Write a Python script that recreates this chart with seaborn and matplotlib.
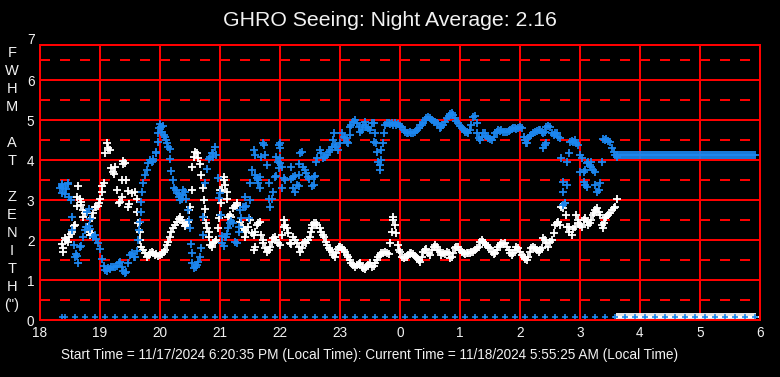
import matplotlib
matplotlib.use("Agg")
import matplotlib.pyplot as plt
import matplotlib.transforms as mtransforms
import seaborn as sns
import pandas as pd

sns.set_theme(style="dark")
plt.rcParams["font.family"] = ["Liberation Sans", "DejaVu Sans"]
plt.rcParams["lines.scale_dashes"] = False

# ---------------- text ----------------
title = "GHRO Seeing: Night Average: 2.16"
footer = ("Start Time = 11/17/2024 6:20:35 PM (Local Time): "
          "Current Time = 11/18/2024 5:55:25 AM (Local Time)")
ylabel_letters = ["F", "W", "H", "M", "", "A", "T", "", "Z", "E", "N", "I", "T", "H", '(")']

x_ticks = [18, 19, 20, 21, 22, 23, 24, 25, 26, 27, 28, 29, 30]
x_tick_labels = ["18", "19", "20", "21", "22", "23", "0", "1", "2", "3", "4", "5", "6"]
y_ticks = [0, 1, 2, 3, 4, 5, 6]
y_tick_labels = ["0", "1", "2", "3", "4", "5", "6"]
y_top_label = "7"

# ---------------- data: (hour of night, FWHM) ----------------
blue_points = [
    (18.34, 3.30), (18.36, 3.40), (18.37, 3.35), (18.39, 3.29), (18.43, 3.27), (18.46, 3.43),
    (18.47, 3.39), (18.37, 3.17), (18.42, 3.14), (18.49, 3.08), (18.51, 3.00), (18.53, 2.57),
    (18.54, 2.25), (18.57, 1.87), (18.59, 1.58), (18.60, 1.65), (18.62, 1.60), (18.64, 1.42),
    (18.67, 1.82), (18.69, 1.86), (18.71, 2.08), (18.75, 2.25), (18.77, 2.32), (18.78, 2.71),
    (18.81, 2.77), (18.82, 2.35), (18.83, 2.52), (18.84, 2.28), (18.89, 2.08), (18.91, 2.13),
    (18.94, 2.02), (18.97, 1.92), (19.00, 1.77), (19.04, 1.52), (19.06, 1.36), (19.08, 1.25),
    (19.11, 1.23), (19.14, 1.29), (19.17, 1.27), (19.19, 1.33), (19.22, 1.33), (19.25, 1.32),
    (19.28, 1.36), (19.31, 1.42), (19.33, 1.46), (19.36, 1.33), (19.39, 1.23), (19.42, 1.17),
    (19.44, 1.21), (19.47, 1.42), (19.50, 1.63), (19.53, 1.68), (19.56, 1.58), (19.58, 1.58),
    (19.61, 1.73), (19.63, 2.00), (19.65, 2.25), (19.66, 2.46), (19.68, 2.70), (19.69, 2.96),
    (19.70, 3.20), (19.72, 3.42), (19.75, 3.63), (19.78, 3.75), (19.80, 3.92), (19.83, 4.00),
    (19.86, 3.96), (19.88, 4.02), (19.89, 3.98), (19.93, 4.18), (19.94, 4.20), (19.96, 4.46),
    (19.97, 4.67), (19.99, 4.80), (20.00, 4.90), (20.02, 4.83), (20.04, 4.71), (20.05, 4.85),
    (20.07, 4.63), (20.08, 4.57), (20.10, 4.50), (20.12, 4.42), (20.14, 4.33), (20.16, 4.27),
    (20.17, 4.02), (20.19, 3.73), (20.21, 3.50), (20.23, 3.29), (20.27, 3.25), (20.29, 3.18),
    (20.31, 3.14), (20.32, 3.08), (20.34, 3.00), (20.36, 3.03), (20.38, 3.13), (20.39, 3.25),
    (20.41, 3.21), (20.44, 3.03), (20.47, 2.75), (20.49, 2.50), (20.50, 2.29), (20.51, 1.90),
    (20.53, 1.68), (20.54, 1.43), (20.57, 1.29), (20.60, 1.33), (20.62, 1.38), (20.64, 1.46),
    (20.67, 1.58), (20.69, 1.79), (20.71, 2.13), (20.72, 2.57), (20.75, 3.42), (20.78, 3.77),
    (20.81, 4.02), (20.83, 4.07), (20.86, 4.17), (20.88, 4.08), (20.89, 4.18), (20.92, 4.32),
    (20.94, 4.13), (20.97, 3.54), (20.99, 3.04), (21.00, 3.17), (21.01, 2.63), (21.03, 2.10),
    (21.04, 1.92), (21.06, 1.86), (21.08, 2.08), (21.10, 2.08), (21.12, 2.15), (21.14, 2.29),
    (21.17, 2.42), (21.19, 2.48), (21.22, 2.42), (21.25, 1.96), (21.28, 1.93), (21.31, 2.32),
    (21.32, 2.21), (21.33, 2.75), (21.35, 2.54), (21.39, 2.83), (21.42, 2.83), (21.42, 3.08),
    (21.44, 2.85), (21.49, 2.54), (21.50, 3.00), (21.50, 3.42), (21.53, 3.75), (21.56, 4.25),
    (21.58, 4.13), (21.58, 3.63), (21.61, 3.54), (21.64, 3.50), (21.64, 3.42), (21.66, 3.29),
    (21.67, 3.57), (21.69, 4.08), (21.72, 4.42), (21.73, 4.38), (21.75, 4.13), (21.79, 3.88),
    (21.81, 3.42), (21.82, 3.02), (21.84, 2.82), (21.86, 3.02), (21.89, 3.21), (21.92, 3.58),
    (21.93, 3.60), (21.94, 4.08), (21.97, 3.96), (21.99, 4.38), (21.99, 3.79), (22.00, 4.42),
    (22.00, 4.29), (22.00, 4.04), (22.00, 3.92), (22.03, 3.83), (22.04, 3.29), (22.06, 3.54),
    (22.08, 3.50), (22.19, 3.83), (22.19, 3.52), (22.22, 3.57), (22.22, 3.29), (22.25, 3.60),
    (22.25, 3.21), (22.28, 3.38), (22.31, 3.63), (22.31, 3.35), (22.32, 3.90), (22.33, 4.17),
    (22.36, 4.21), (22.39, 3.83), (22.41, 3.75), (22.44, 3.68), (22.47, 3.57), (22.49, 3.53),
    (22.53, 3.35), (22.56, 3.38), (22.57, 3.57), (22.58, 3.60), (22.60, 3.96), (22.62, 4.04),
    (22.67, 4.25), (22.69, 4.17), (22.72, 4.04), (22.75, 4.08), (22.78, 4.13), (22.81, 4.21),
    (22.83, 4.25), (22.86, 4.33), (22.89, 4.50), (22.90, 4.67), (22.92, 4.38), (22.94, 4.33),
    (22.97, 4.25), (23.00, 4.42), (23.03, 4.67), (23.06, 4.58), (23.08, 4.54), (23.11, 4.46),
    (23.14, 4.42), (23.16, 4.63), (23.17, 4.83), (23.19, 4.88), (23.22, 4.96), (23.25, 5.00),
    (23.28, 4.92), (23.31, 4.83), (23.33, 4.71), (23.36, 4.75), (23.39, 4.88), (23.42, 4.96),
    (23.44, 4.83), (23.47, 4.79), (23.50, 4.75), (23.53, 4.92), (23.56, 4.93), (23.56, 4.46),
    (23.58, 4.67), (23.60, 4.42), (23.61, 4.21), (23.64, 3.96), (23.66, 3.75), (23.67, 3.88),
    (23.68, 4.00), (23.69, 4.25), (23.72, 4.42), (23.73, 4.67), (23.75, 4.88), (23.78, 4.93),
    (23.81, 4.92), (23.83, 4.90), (23.86, 4.92), (23.89, 4.88), (23.92, 4.92), (23.94, 4.88),
    (23.97, 4.90), (24.00, 4.85), (24.03, 4.83), (24.06, 4.75), (24.08, 4.71), (24.11, 4.67),
    (24.14, 4.68), (24.17, 4.71), (24.19, 4.67), (24.22, 4.68), (24.25, 4.71), (24.28, 4.75),
    (24.31, 4.79), (24.33, 4.88), (24.36, 4.88), (24.39, 4.92), (24.42, 5.00), (24.44, 5.04),
    (24.47, 5.08), (24.50, 5.04), (24.53, 5.00), (24.56, 4.96), (24.58, 4.96), (24.61, 4.92),
    (24.64, 4.90), (24.67, 4.79), (24.69, 4.83), (24.72, 4.88), (24.75, 4.96), (24.78, 5.04),
    (24.81, 5.10), (24.83, 5.15), (24.86, 5.17), (24.89, 5.13), (24.92, 5.04), (24.94, 4.98),
    (24.97, 4.92), (25.00, 4.85), (25.03, 4.79), (25.06, 4.75), (25.08, 4.71), (25.11, 4.71),
    (25.14, 4.68), (25.17, 4.75), (25.19, 4.88), (25.22, 5.08), (25.25, 5.10), (25.28, 4.92),
    (25.29, 4.68), (25.32, 4.54), (25.34, 4.50), (25.36, 4.58), (25.39, 4.67), (25.42, 4.67),
    (25.44, 4.60), (25.47, 4.54), (25.50, 4.52), (25.53, 4.50), (25.56, 4.57), (25.58, 4.67),
    (25.61, 4.71), (25.64, 4.75), (25.67, 4.73), (25.69, 4.75), (25.72, 4.71), (25.75, 4.69),
    (25.78, 4.71), (25.81, 4.73), (25.83, 4.75), (25.86, 4.77), (25.89, 4.79), (25.92, 4.79),
    (25.94, 4.77), (25.97, 4.79), (26.00, 4.83), (26.03, 4.79), (26.06, 4.58), (26.08, 4.50),
    (26.10, 4.42), (26.12, 4.43), (26.14, 4.54), (26.17, 4.60), (26.19, 4.63), (26.22, 4.67),
    (26.25, 4.71), (26.28, 4.73), (26.31, 4.75), (26.33, 4.75), (26.36, 4.71), (26.39, 4.67),
    (26.39, 4.29), (26.42, 4.71), (26.42, 4.38), (26.44, 4.83), (26.44, 4.42), (26.47, 4.85),
    (26.50, 4.83), (26.53, 4.67), (26.56, 4.63), (26.58, 4.67), (26.61, 4.68), (26.64, 4.58),
    (26.67, 4.54), (26.69, 4.04), (26.72, 3.46), (26.72, 3.21), (26.72, 2.88), (26.75, 2.92),
    (26.78, 3.96), (26.78, 3.38), (26.81, 4.18), (26.83, 4.46), (26.86, 4.48), (26.89, 4.46),
    (26.92, 4.50), (26.94, 4.42), (26.97, 4.38), (27.00, 4.13), (27.03, 4.04), (27.00, 3.71),
    (27.06, 3.71), (27.06, 3.46), (27.08, 3.75), (27.08, 3.38), (27.11, 3.92), (27.11, 3.33),
    (27.14, 3.96), (27.17, 3.88), (27.19, 3.83), (27.19, 3.96), (27.22, 3.75), (27.25, 3.71),
    (27.25, 3.38), (27.28, 3.21), (27.31, 3.25), (27.33, 3.42), (27.36, 3.96), (27.39, 4.52),
    (27.42, 4.50), (27.44, 4.52), (27.47, 4.48), (27.50, 4.46), (27.53, 4.29), (27.56, 4.21),
    (27.58, 4.13), (27.61, 4.08),
]

white_points = [
    (18.36, 1.90), (18.38, 1.71), (18.39, 1.79), (18.42, 2.04), (18.44, 2.00), (18.47, 1.96),
    (18.49, 2.08), (18.52, 2.15), (18.54, 2.21), (18.56, 2.35), (18.58, 2.38), (18.61, 2.85),
    (18.62, 3.08), (18.64, 3.35), (18.66, 3.02), (18.68, 2.96), (18.69, 2.88), (18.71, 2.58),
    (18.72, 2.75), (18.75, 2.67), (18.78, 2.33), (18.81, 2.21), (18.83, 2.13), (18.86, 2.17),
    (18.86, 2.54), (18.89, 2.67), (18.91, 2.83), (18.93, 2.82), (18.96, 2.85), (18.99, 2.92),
    (19.00, 3.02), (19.03, 3.21), (19.03, 3.35), (19.06, 3.42), (19.08, 4.17), (19.11, 4.42),
    (19.14, 4.29), (19.17, 4.25), (19.18, 3.79), (19.21, 3.71), (19.23, 3.65), (19.25, 3.83),
    (19.28, 3.25), (19.31, 2.92), (19.33, 2.96), (19.36, 3.07), (19.36, 3.50), (19.38, 3.90),
    (19.39, 3.98), (19.42, 3.93), (19.44, 3.50), (19.46, 3.23), (19.47, 2.83), (19.49, 2.90),
    (19.53, 3.17), (19.58, 3.21), (19.61, 3.02), (19.61, 2.71), (19.64, 2.42), (19.66, 2.21),
    (19.67, 2.00), (19.69, 1.83), (19.72, 1.75), (19.75, 1.67), (19.78, 1.58), (19.81, 1.63),
    (19.83, 1.67), (19.86, 1.71), (19.89, 1.68), (19.92, 1.63), (19.94, 1.65), (19.97, 1.60),
    (20.00, 1.63), (20.03, 1.65), (20.06, 1.71), (20.08, 1.75), (20.11, 1.88), (20.14, 1.96),
    (20.17, 2.08), (20.19, 2.21), (20.22, 2.29), (20.25, 2.38), (20.28, 2.46), (20.31, 2.52),
    (20.33, 2.57), (20.36, 2.50), (20.39, 2.42), (20.42, 2.35), (20.44, 2.40), (20.47, 2.46),
    (20.49, 2.75), (20.50, 2.83), (20.53, 3.25), (20.54, 3.83), (20.56, 4.08), (20.58, 4.21),
    (20.61, 4.17), (20.64, 4.04), (20.67, 3.90), (20.69, 3.63), (20.71, 3.29), (20.73, 3.00),
    (20.73, 2.58), (20.75, 2.77), (20.77, 2.42), (20.78, 2.29), (20.81, 2.21), (20.81, 2.08),
    (20.83, 1.88), (20.86, 1.83), (20.89, 1.92), (20.92, 1.96), (20.94, 2.00), (20.97, 2.29),
    (20.99, 2.54), (21.00, 2.63), (21.01, 2.93), (21.00, 3.25), (21.03, 3.25), (21.06, 3.58),
    (21.07, 3.50), (21.08, 3.38), (21.11, 3.21), (21.12, 3.02), (21.14, 2.58), (21.17, 2.63),
    (21.19, 2.58), (21.22, 2.79), (21.25, 2.85), (21.28, 2.88), (21.29, 2.93), (21.33, 2.46),
    (21.36, 2.33), (21.39, 2.29), (21.42, 2.25), (21.44, 2.21), (21.47, 2.33), (21.50, 2.50),
    (21.53, 2.17), (21.56, 2.13), (21.58, 2.21), (21.61, 2.38), (21.64, 2.42), (21.67, 2.46),
    (21.42, 2.07), (21.56, 1.75), (21.58, 1.83), (21.69, 2.13), (21.72, 2.00), (21.71, 1.92),
    (21.75, 1.79), (21.78, 1.71), (21.81, 1.75), (21.83, 1.83), (21.86, 1.96), (21.89, 2.04),
    (21.92, 2.08), (21.94, 2.00), (21.97, 1.92), (22.00, 1.88), (22.03, 2.13), (22.06, 2.33),
    (22.07, 2.50), (22.08, 2.38), (22.11, 2.29), (22.14, 2.17), (22.17, 1.92), (22.19, 1.90),
    (22.22, 2.08), (22.25, 2.00), (22.28, 1.92), (22.31, 1.83), (22.33, 1.71), (22.36, 1.79),
    (22.39, 1.92), (22.42, 1.96), (22.44, 1.92), (22.47, 2.00), (22.50, 2.08), (22.51, 2.21),
    (22.53, 2.29), (22.54, 2.38), (22.57, 2.42), (22.60, 2.42), (22.62, 2.38), (22.66, 2.29),
    (22.68, 2.21), (22.71, 2.13), (22.73, 2.08), (22.77, 1.96), (22.79, 1.88), (22.81, 1.79),
    (22.83, 1.75), (22.86, 1.71), (22.89, 1.63), (22.92, 1.58), (22.94, 1.67), (22.97, 1.77),
    (22.99, 1.83), (23.00, 1.83), (23.03, 1.79), (23.06, 1.75), (23.08, 1.71), (23.11, 1.63),
    (23.14, 1.58), (23.17, 1.50), (23.19, 1.42), (23.22, 1.38), (23.25, 1.33), (23.28, 1.38),
    (23.31, 1.40), (23.33, 1.42), (23.36, 1.33), (23.39, 1.29), (23.42, 1.27), (23.44, 1.33),
    (23.47, 1.38), (23.50, 1.42), (23.53, 1.33), (23.56, 1.35), (23.58, 1.42), (23.61, 1.50),
    (23.64, 1.58), (23.67, 1.63), (23.69, 1.67), (23.72, 1.68), (23.75, 1.71), (23.78, 1.67),
    (23.81, 1.65), (23.83, 1.92), (23.86, 2.21), (23.88, 2.50), (23.89, 2.58), (23.92, 2.38),
    (23.94, 2.17), (23.97, 1.88), (23.99, 1.75), (24.00, 1.71), (24.03, 1.58), (24.06, 1.54),
    (24.08, 1.57), (24.11, 1.58), (24.14, 1.63), (24.17, 1.67), (24.19, 1.68), (24.22, 1.65),
    (24.25, 1.60), (24.28, 1.54), (24.31, 1.50), (24.33, 1.46), (24.36, 1.58), (24.39, 1.71),
    (24.42, 1.75), (24.44, 1.77), (24.47, 1.67), (24.50, 1.63), (24.53, 1.75), (24.56, 1.83),
    (24.58, 1.88), (24.61, 1.83), (24.64, 1.75), (24.67, 1.71), (24.69, 1.63), (24.72, 1.67),
    (24.75, 1.65), (24.78, 1.71), (24.81, 1.67), (24.83, 1.54), (24.86, 1.58), (24.89, 1.67),
    (24.92, 1.79), (24.94, 1.83), (24.97, 1.82), (25.00, 1.75), (25.03, 1.71), (25.06, 1.67),
    (25.08, 1.65), (25.11, 1.67), (25.14, 1.68), (25.17, 1.68), (25.19, 1.71), (25.22, 1.71),
    (25.25, 1.75), (25.28, 1.79), (25.31, 1.83), (25.33, 1.96), (25.36, 2.00), (25.39, 1.96),
    (25.42, 1.92), (25.44, 1.88), (25.47, 1.83), (25.50, 1.79), (25.53, 1.71), (25.56, 1.65),
    (25.58, 1.67), (25.61, 1.75), (25.64, 1.83), (25.67, 1.88), (25.69, 1.92), (25.72, 1.90),
    (25.75, 1.93), (25.78, 1.83), (25.81, 1.75), (25.83, 1.67), (25.86, 1.63), (25.89, 1.67),
    (25.92, 1.75), (25.94, 1.83), (25.97, 1.79), (26.00, 1.71), (26.03, 1.63), (26.06, 1.58),
    (26.08, 1.52), (26.11, 1.50), (26.14, 1.58), (26.17, 1.71), (26.19, 1.79), (26.22, 1.83),
    (26.25, 1.79), (26.28, 1.75), (26.31, 1.71), (26.33, 1.75), (26.36, 1.79), (26.39, 2.04),
    (26.42, 2.00), (26.44, 1.92), (26.47, 1.83), (26.50, 1.96), (26.53, 2.00), (26.56, 2.17),
    (26.58, 2.38), (26.61, 2.42), (26.64, 2.46), (26.67, 2.38), (26.69, 2.83), (26.72, 2.79),
    (26.75, 2.92), (26.77, 2.63), (26.78, 2.33), (26.81, 2.33), (26.82, 2.21), (26.86, 2.13),
    (26.89, 2.27), (26.92, 2.33), (26.93, 2.63), (26.96, 2.50), (26.97, 2.42), (27.00, 2.38),
    (27.03, 2.33), (27.06, 2.50), (27.08, 2.54), (27.11, 2.46), (27.14, 2.38), (27.17, 2.42),
    (27.19, 2.50), (27.21, 2.63), (27.23, 2.67), (27.25, 2.75), (27.28, 2.79), (27.31, 2.71),
    (27.33, 2.63), (27.36, 2.38), (27.38, 2.29), (27.40, 2.42), (27.42, 2.54), (27.44, 2.58),
    (27.47, 2.63), (27.50, 2.67), (27.53, 2.75), (27.56, 2.79), (27.58, 2.83), (27.61, 3.02),
]

# blue readings logged at the floor every ten minutes (minutes after 18:00)
blue_zero_minutes = [
    22, 25, 35, 45, 55, 65, 75, 85, 95, 105, 115, 125, 135, 145, 155, 165, 175, 185,
    195, 205, 215, 225, 235, 245, 255, 265, 275, 285, 295, 305, 315, 325, 335, 345,
    355, 365, 375, 385, 395, 405, 415, 425, 435, 445, 455, 465, 475, 485, 495, 505,
    515, 525, 535, 545, 555, 565, 575, 585, 595, 605, 615, 625, 635, 645, 655, 665,
    675, 685, 695, 705, 715,
]
blue_floor_value = 0.08
# after 03:37 the series hold constant values (minutes after 18:00)
tail_minutes = [
    577, 579, 581, 583, 585, 587, 589, 591, 593, 595, 597, 599, 601, 603, 605, 607,
    609, 611, 613, 615, 617, 619, 621, 623, 625, 627, 629, 631, 633, 635, 637, 639,
    641, 643, 645, 647, 649, 651, 653, 655, 657, 659, 661, 663, 665, 667, 669, 671,
    673, 675, 677, 679, 681, 683, 685, 687, 689, 691, 693, 695, 697, 699, 701, 703,
    705, 707, 709, 711, 713, 715,
]
tail_blue_value = 4.12
tail_white_value = 0.08

# ---------------- build frames ----------------
blue_df = pd.DataFrame(blue_points, columns=["hour", "fwhm"])
white_df = pd.DataFrame(white_points, columns=["hour", "fwhm"])
zero_df = pd.DataFrame({"hour": [18 + m / 60 for m in blue_zero_minutes],
                        "fwhm": [blue_floor_value] * len(blue_zero_minutes)})
tail_hours = [18 + m / 60 for m in tail_minutes]
tail_blue_df = pd.DataFrame({"hour": tail_hours, "fwhm": [tail_blue_value] * len(tail_hours)})
tail_white_df = pd.DataFrame({"hour": tail_hours, "fwhm": [tail_white_value] * len(tail_hours)})

# ---------------- styling ----------------
BLUE = "#1C86EE"
WHITE = "#FFFFFF"
RED = "#FF0000"
TXT = "#F2F2F2"

W, H = 780, 377
fig = plt.figure(figsize=(W / 100, H / 100), dpi=100, facecolor="black")
ax = fig.add_axes([40 / W, 57 / H, 720 / W, 275 / H], facecolor="black")

ax.set_xlim(18, 30)
ax.set_ylim(0, 6.875)

ax.set_axisbelow(True)
ax.set_xticks(x_ticks)
ax.set_xticklabels(x_tick_labels)
ax.set_yticks(y_ticks)
ax.set_yticklabels(y_tick_labels)
ax.set_yticks([0.5, 1.5, 2.5, 3.5, 4.5, 5.5, 6.5], minor=True)
ax.tick_params(axis="both", which="both", length=0, colors=TXT, labelsize=9.8)
ax.tick_params(axis="x", pad=4)
ax.tick_params(axis="y", pad=4)
ax.grid(False)
ax.grid(True, which="major", axis="both", color=RED, linewidth=1.44, linestyle="-")
ax.grid(True, which="minor", axis="y", color=RED, linewidth=1.44, linestyle=(0, (7.2, 7.2)))
for sp in ax.spines.values():
    sp.set_visible(True)
    sp.set_color(RED)
    sp.set_linewidth(1.44)

mk = dict(marker="+", s=30, linewidth=1.3, legend=False, ax=ax)
sns.scatterplot(data=white_df, x="hour", y="fwhm", color=WHITE, **mk)
sns.scatterplot(data=tail_white_df, x="hour", y="fwhm", color=WHITE, **mk)
sns.scatterplot(data=blue_df, x="hour", y="fwhm", color=BLUE, **mk)
sns.scatterplot(data=tail_blue_df, x="hour", y="fwhm", color=BLUE, **mk)
sns.scatterplot(data=zero_df, x="hour", y="fwhm", color=BLUE, marker="+", s=22,
                linewidth=1.2, legend=False, ax=ax)
ax.set_xlabel("")
ax.set_ylabel("")

# the "7" label sits above the plotting box
trans = mtransforms.blended_transform_factory(ax.transAxes, ax.transData)
ax.text(-5 / 720, 7, y_top_label, transform=trans, ha="right", va="center",
        color=TXT, fontsize=9.8, clip_on=False)

# vertical y-axis title, one letter per row
for i, ch in enumerate(ylabel_letters):
    if ch:
        fig.text(12 / W, 1 - (53 + 18 * i) / H, ch, ha="center", va="center",
                 color=TXT, fontsize=10.5)

fig.text(390 / W, 1 - 20 / H, title, ha="center", va="center", color=TXT, fontsize=15.3)
fig.text(370 / W, 1 - 355 / H, footer, ha="center", va="center", color=TXT, fontsize=9.8)

fig.savefig("out.png", dpi=100, facecolor="black")
